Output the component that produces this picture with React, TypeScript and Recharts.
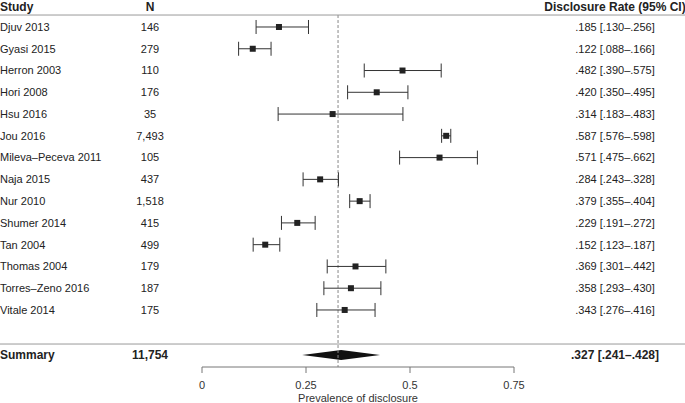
import React from "react";
import {
  ScatterChart,
  Scatter,
  XAxis,
  YAxis,
  ErrorBar,
  ReferenceLine,
  ReferenceArea,
} from "recharts";

const studies = [
  "Djuv 2013",
  "Gyasi 2015",
  "Herron 2003",
  "Hori 2008",
  "Hsu 2016",
  "Jou 2016",
  "Mileva–Peceva 2011",
  "Naja 2015",
  "Nur 2010",
  "Shumer 2014",
  "Tan 2004",
  "Thomas 2004",
  "Torres–Zeno 2016",
  "Vitale 2014",
];
const sampleSizes = [
  "146", "279", "110", "176", "35", "7,493", "105",
  "437", "1,518", "415", "499", "179", "187", "175",
];
const estimates = [0.185, 0.122, 0.482, 0.42, 0.314, 0.587, 0.571, 0.284, 0.379, 0.229, 0.152, 0.369, 0.358, 0.343];
const lower = [0.13, 0.088, 0.39, 0.35, 0.183, 0.576, 0.475, 0.243, 0.355, 0.191, 0.123, 0.301, 0.293, 0.276];
const upper = [0.256, 0.166, 0.575, 0.495, 0.483, 0.598, 0.662, 0.328, 0.404, 0.272, 0.187, 0.442, 0.43, 0.416];

const summaryLabel = "Summary";
const summaryN = "11,754";
const summaryEst = 0.327;
const summaryLo = 0.241;
const summaryHi = 0.428;

const xTicks = [0, 0.25, 0.5, 0.75];
const xTickLabels = ["0", "0.25", "0.5", "0.75"];

// row positions (header = 0, studies 1..14, summary below a gap)
const HEADER_ROW = 0;
const SUMMARY_ROW = 16.07;

const fmt = (v: number) => v.toFixed(3).replace(/^0/, "");

const data = studies.map((name, i) => ({
  row: i + 1,
  est: estimates[i],
  err: [estimates[i] - lower[i], upper[i] - estimates[i]],
}));

type RowInfo = { left: string; n: string; right: string; bold: boolean };
const rowInfo: Record<string, RowInfo> = {};
rowInfo[String(HEADER_ROW)] = { left: "Study", n: "N", right: "Disclosure Rate (95% CI)", bold: true };
studies.forEach((s, i) => {
  rowInfo[String(i + 1)] = {
    left: s,
    n: sampleSizes[i],
    right: `${fmt(estimates[i])} [${fmt(lower[i])}–${fmt(upper[i])}]`,
    bold: false,
  };
});
rowInfo[String(SUMMARY_ROW)] = {
  left: summaryLabel,
  n: summaryN,
  right: `${fmt(summaryEst)} [${fmt(summaryLo)}–${fmt(summaryHi)}]`,
  bold: true,
};

const yTicks = [HEADER_ROW, ...studies.map((_, i) => i + 1), SUMMARY_ROW];

const FONT = "'Liberation Sans', Arial, sans-serif";

const TableTick = (props: any) => {
  const { y, payload } = props;
  const info = rowInfo[String(payload.value)];
  if (!info) return null;
  const weight = info.bold ? "bold" : "normal";
  const isHeader = payload.value === HEADER_ROW;
  // header sits right at the top edge; nudge it down a touch so it isn't clipped
  const ty = isHeader ? y + 1.5 : y;
  return (
    <g fontFamily={FONT} fontSize={info.bold ? 12 : 11} fill="#222" fontWeight={weight}>
      <text x={0} y={ty} dy="0.35em" textAnchor="start">{info.left}</text>
      <text x={150} y={ty} dy="0.35em" textAnchor="middle">{info.n}</text>
      <text x={615} y={ty} dy="0.35em" textAnchor="middle">{info.right}</text>
      {isHeader && (
        <line x1={0} x2={685} y1={y + 9.8} y2={y + 9.8} stroke="#999" strokeWidth={1} />
      )}
      {payload.value === SUMMARY_ROW && (
        <line x1={0} x2={685} y1={y - 11} y2={y - 11} stroke="#999" strokeWidth={1} />
      )}
    </g>
  );
};

const Square = (props: any) => {
  const { cx, cy } = props;
  return <rect x={cx - 3} y={cy - 3} width={6} height={6} fill="#222" />;
};

const Diamond = (props: any) => {
  const { x, y, width, height } = props;
  const cx = x + width / 2;
  const cy = y + height / 2;
  const pts = `${x},${cy} ${cx},${y} ${x + width},${cy} ${cx},${y + height}`;
  return <polygon points={pts} fill="#111" />;
};

export default function App() {
  return (
    <div style={{ position: "absolute", left: 0, top: 0, background: "#fff" }}>
      <ScatterChart
        width={685}
        height={403}
        margin={{ top: 0, right: 171, bottom: 0, left: 0 }}
      >
        <XAxis
          type="number"
          dataKey="est"
          domain={[0, 0.75]}
          ticks={xTicks}
          tickFormatter={(v: number) => xTickLabels[xTicks.indexOf(v)] ?? String(v)}
          height={36}
          stroke="#777"
          tickSize={6}
          tickMargin={8}
          tick={{ fill: "#333", fontSize: 11, fontFamily: FONT }}
          label={{
            value: "Prevalence of disclosure",
            position: "insideBottom",
            offset: 1,
            fill: "#333",
            fontSize: 11,
            fontFamily: FONT,
          }}
        />
        <YAxis
          type="number"
          dataKey="row"
          domain={[-0.24, 16.62]}
          reversed
          ticks={yTicks}
          interval={0}
          width={202}
          axisLine={false}
          tickLine={false}
          tick={<TableTick />}
          allowDataOverflow
        />
        <ReferenceLine
          segment={[
            { x: summaryEst, y: 0.45 },
            { x: summaryEst, y: 16.62 },
          ]}
          stroke="#888"
          strokeDasharray="3 2"
        />
        <ReferenceArea
          x1={summaryLo}
          x2={summaryHi}
          y1={SUMMARY_ROW - 0.23}
          y2={SUMMARY_ROW + 0.23}
          shape={<Diamond />}
        />
        <Scatter data={data} shape={<Square />} isAnimationActive={false}>
          <ErrorBar dataKey="err" direction="x" width={7} stroke="#333" strokeWidth={1} />
        </Scatter>
      </ScatterChart>
    </div>
  );
}
